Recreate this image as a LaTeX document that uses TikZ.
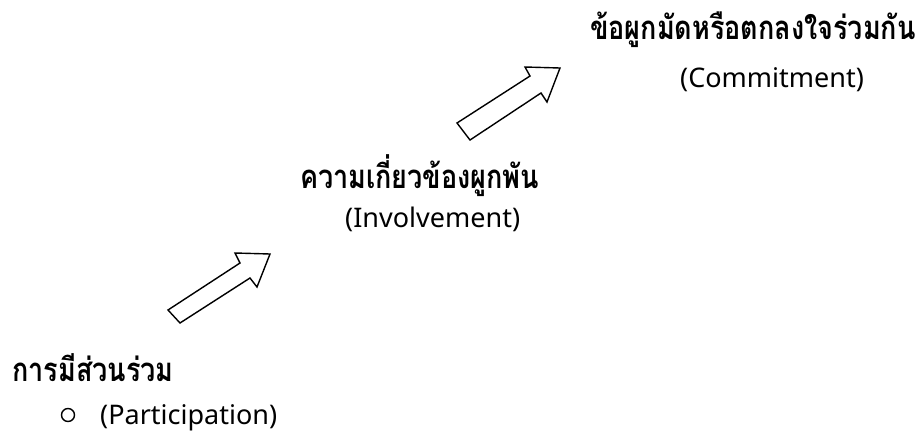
\documentclass[tikz,border=0pt]{standalone}
\usepackage{fontspec}
\setmainfont{Noto Sans}
\newfontfamily\thaifont[Script=Thai]{Loma}
\newcommand{\tallthai}[1]{\scalebox{1}[1.22]{#1}}
\begin{document}
\begin{tikzpicture}[x=1pt,y=-1pt,
  thaitext/.style={anchor=base west,inner sep=0pt,font=\thaifont\bfseries\fontsize{27}{30}\selectfont},
  engtext/.style={anchor=base west,inner sep=0pt,font=\fontsize{27}{32}\selectfont},
  hollow/.style={draw=black,line width=1.4pt,fill=white,line join=miter}]
\useasboundingbox (0,0) rectangle (916,432);
% texts
\node[thaitext] (t3) at (590,39) {\tallthai{ข้อผูกมัดหรือตกลงใจร่วมกัน}};
\node[engtext] (e3) at (680,87) {(Commitment)};
\node[thaitext] (t2) at (300,188) {\tallthai{ความเกี่ยวข้องผูกพัน}};
\node[engtext] (e2) at (345,227) {(Involvement)};
\node[thaitext] (t1) at (12,381) {\tallthai{การมีส่วนร่วม}};
\node[engtext] (e1) at (100,424) {(Participation)};
\node[draw,circle,line width=1.4pt,minimum size=13pt,inner sep=0pt] (b1) at (68,415) {};
% arrows
\draw[hollow] (168,310) -- (240,263) -- (235,253) -- (270,254) -- (257,287) -- (250,278) -- (180,323) -- cycle;
\draw[hollow] (457,123) -- (530,76) -- (525,67) -- (560,68) -- (547,102) -- (541,93) -- (470,140) -- cycle;
\end{tikzpicture}
\end{document}
